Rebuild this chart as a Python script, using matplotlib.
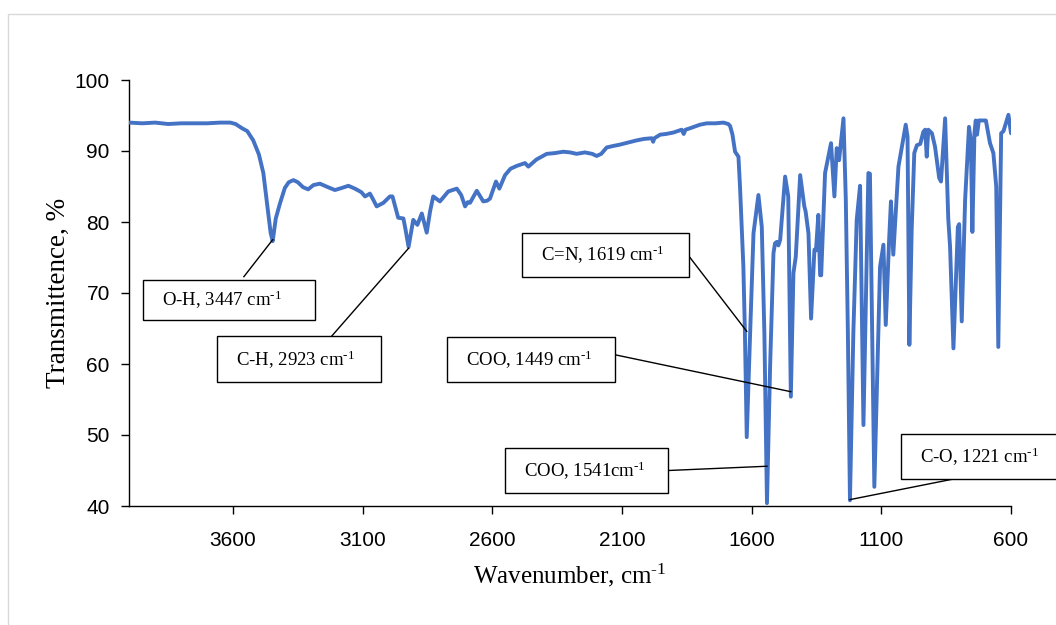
import numpy as np
import matplotlib
matplotlib.use('Agg')
import matplotlib.pyplot as plt
from matplotlib.patches import Rectangle

plt.rcParams.update({
    'font.family': 'Liberation Serif',
    'mathtext.fontset': 'custom',
    'mathtext.rm': 'Liberation Serif',
    'mathtext.it': 'Liberation Serif:italic',
})

# -----------------------
# FTIR spectrum
# -----------------------
wavenumber = np.array([
    4000, 3950, 3900, 3850, 3800, 3750, 3700, 3650, 3610, 3590, 3565, 3545,
    3522, 3500, 3483, 3465, 3455, 3447, 3435, 3419, 3400, 3385, 3367, 3350,
    3330, 3310, 3290, 3265, 3240, 3207, 3180, 3155, 3130, 3105, 3091, 3072,
    3060, 3046, 3020, 2995, 2985, 2963, 2943, 2935, 2923, 2905, 2889, 2872,
    2853, 2840, 2828, 2802, 2770, 2737, 2720, 2705, 2695, 2686, 2660, 2650,
    2635, 2620, 2609, 2586, 2573, 2551, 2530, 2506, 2474, 2461, 2430, 2390,
    2360, 2326, 2300, 2275, 2243, 2215, 2198, 2180, 2159, 2135, 2108, 2075,
    2043, 2015, 1985, 1980, 1975, 1953, 1930, 1902, 1870, 1862, 1855, 1838,
    1800, 1773, 1740, 1709, 1690, 1683, 1674, 1664, 1651, 1645, 1632, 1626,
    1619, 1606, 1593, 1574, 1561, 1551, 1541, 1529, 1516, 1510, 1503, 1497,
    1490, 1471, 1459, 1449, 1439, 1430, 1413, 1397, 1392, 1381, 1371, 1358,
    1352, 1343, 1336, 1332, 1317, 1294, 1281, 1272, 1263, 1246, 1237, 1229,
    1221, 1208, 1195, 1182, 1169, 1150, 1144, 1127, 1105, 1092, 1083, 1070,
    1063, 1054, 1034, 1006, 999, 992, 983, 973, 963, 950, 938, 931,
    925, 919, 905, 893, 877, 870, 854, 842, 835, 822, 805, 800,
    790, 777, 762, 755, 749, 741, 736, 731, 724, 697, 681, 668,
    657, 649, 638, 629, 610, 600,
])
transmittance = np.array([
    94.0, 93.9, 94.0, 93.8, 93.9, 93.9, 93.9, 94.0, 94.0, 93.8, 93.2, 92.8,
    91.5, 89.5, 86.9, 81.5, 78.5, 77.3, 80.5, 82.6, 84.8, 85.6, 85.9, 85.6,
    84.9, 84.6, 85.2, 85.4, 85.0, 84.5, 84.8, 85.1, 84.7, 84.2, 83.6, 84.0,
    83.2, 82.2, 82.7, 83.6, 83.6, 80.6, 80.5, 79.0, 76.5, 80.3, 79.6, 81.2,
    78.5, 81.5, 83.6, 82.9, 84.3, 84.7, 83.8, 82.2, 82.8, 82.7, 84.4, 83.8,
    82.9, 83.0, 83.3, 85.7, 84.7, 86.6, 87.5, 87.9, 88.3, 87.8, 88.8, 89.6,
    89.7, 89.9, 89.8, 89.6, 89.8, 89.6, 89.3, 89.6, 90.5, 90.7, 90.9, 91.2,
    91.5, 91.7, 91.8, 91.3, 91.8, 92.3, 92.4, 92.6, 93.0, 92.4, 93.0, 93.2,
    93.7, 93.9, 93.9, 94.0, 93.8, 93.5, 92.3, 89.9, 89.2, 85.0, 73.7, 64.3,
    49.7, 64.3, 78.4, 83.8, 79.3, 64.3, 40.4, 59.6, 75.6, 77.0, 77.2, 76.7,
    77.5, 86.4, 83.6, 55.4, 72.8, 75.1, 86.6, 82.2, 81.5, 78.4, 66.4, 76.1,
    76.0, 81.0, 72.5, 72.5, 86.9, 91.1, 83.6, 90.4, 88.7, 94.6, 83.1, 64.3,
    40.8, 64.3, 80.3, 85.1, 51.4, 86.9, 86.8, 42.7, 73.7, 76.8, 65.5, 77.5,
    82.9, 75.4, 87.8, 93.7, 92.0, 62.7, 78.9, 89.7, 90.8, 91.0, 92.7, 93.0,
    89.2, 93.0, 92.5, 90.6, 86.2, 85.7, 94.6, 80.5, 76.5, 62.2, 79.3, 79.7,
    66.0, 83.1, 93.4, 91.5, 78.6, 92.5, 94.3, 92.3, 94.3, 94.3, 91.1, 89.7,
    85.0, 62.4, 92.5, 92.8, 95.1, 92.5,
])

# assigned bands
band_wn = [3447, 2923, 1619, 1541, 1449, 1221]
band_text = [
    r"O-H, 3447 cm$^{\text{-1}}$",
    r"C-H, 2923 cm$^{\text{-1}}$",
    r"C=N, 1619 cm$^{\text{-1}}$",
    r"COO, 1541cm$^{\text{-1}}$",
    r"COO, 1449 cm$^{\text{-1}}$",
    r"C-O, 1221 cm$^{\text{-1}}$",
]

# callout boxes (wn_left, wn_right, T_bottom, T_top), leader start and leader tip height
boxes = [
    (3948, 3283, 66.2, 71.9),
    (3661, 3031, 57.4, 63.9),
    (2487, 1840, 72.2, 78.5),
    (2551, 1921, 41.9, 48.1),
    (2774, 2127, 57.4, 63.8),
    (1025, 400, 43.8, 50.1),
]
leader_start = [(3558, 72.3), (3220, 63.9), (1838, 75.0), (1921, 45.0), (2127, 61.3), (822, 43.8)]
leader_tip = [77.5, 76.3, 64.6, 45.6, 56.1, 40.9]

# Plot
# ------------------------------------------------------------------
fig = plt.figure(figsize=(10.56, 6.25), dpi=100)
ax = fig.add_axes([0.1224, 0.1904, 0.835, 0.6816])

# light chart-area frame
fig.patches.append(Rectangle((8 / 1056, -0.1), 1.2, 1.1 - 14 / 625, transform=fig.transFigure,
                             facecolor='none', edgecolor='#D9D9D9', linewidth=1.0))

ax.plot(wavenumber, transmittance, color='#4472C4', linewidth=2.8,
        solid_joinstyle='round', solid_capstyle='round', zorder=3)

for wn0, text, (x0, x1, y0, y1), (lx, ly), tip in zip(band_wn, band_text, boxes, leader_start, leader_tip):
    ax.plot([lx, wn0], [ly, tip], color='black', linewidth=1.0, clip_on=False, zorder=4)
    ax.add_patch(Rectangle((x1, y0), x0 - x1, y1 - y0, facecolor='white', edgecolor='black',
                           linewidth=1.0, clip_on=False, zorder=5))
    ax.text(x0 - 73, (y0 + y1) / 2 - 0.9, text, ha='left', va='baseline', fontsize=13.5,
            zorder=6, clip_on=False)

ax.set_xlim(4000, 600)
ax.set_ylim(40, 100)
ax.set_xticks([3600, 3100, 2600, 2100, 1600, 1100, 600])
ax.set_yticks(np.arange(40, 101, 10))

for side in ['top', 'right']:
    ax.spines[side].set_visible(False)
for side in ['left', 'bottom']:
    ax.spines[side].set_linewidth(1.0)

ax.tick_params(axis='both', direction='out', length=6, width=1.0, labelsize=15)
ax.tick_params(axis='x', pad=12)
ax.tick_params(axis='y', pad=8)
for lbl in ax.get_xticklabels() + ax.get_yticklabels():
    lbl.set_fontfamily('Liberation Sans')

ax.set_xlabel(r"Wavenumber, cm$^{\text{-1}}$", fontsize=18, labelpad=8)
ax.set_ylabel("Transmittence, %", fontsize=19.5, labelpad=3)

fig.savefig('out.png', dpi=100)
